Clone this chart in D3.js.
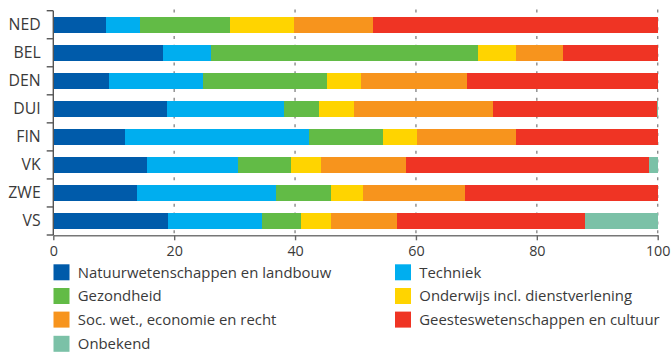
<!DOCTYPE html>
<html>
<head>
<meta charset="utf-8">
<script src="https://cdn.jsdelivr.net/npm/d3@7"></script>
<style>
  html, body { margin: 0; padding: 0; background: #fff; }
  svg { display: block; font-family: "Open Sans", sans-serif; }
</style>
</head>
<body>
<svg id="chart" width="671" height="352"></svg>
<script>
// Landen en aandelen (%) per studierichting
const countries = ["NED", "BEL", "DEN", "DUI", "FIN", "VK", "ZWE", "VS"];

const natuur      = [8.7, 18.2, 9.2, 18.8, 11.9, 15.5, 13.9, 19.0];
const techniek    = [5.6, 7.9, 15.6, 19.4, 30.4, 15.0, 23.0, 15.5];
const gezondheid  = [14.9, 44.2, 20.5, 5.8, 12.3, 8.8, 9.1, 6.5];
const onderwijs   = [10.6, 6.3, 5.6, 5.8, 5.6, 5.0, 5.3, 5.0];
const socwet      = [13.1, 7.8, 17.6, 23.0, 16.4, 14.1, 16.8, 10.9];
const geestes     = [47.1, 15.6, 31.5, 27.1, 23.4, 40.2, 31.9, 31.1];
const onbekend    = [0, 0, 0, 0.1, 0, 1.4, 0, 12.0];

const seriesNames = [
  "Natuurwetenschappen en landbouw", "Techniek", "Gezondheid",
  "Onderwijs incl. dienstverlening", "Soc. wet., economie en recht",
  "Geesteswetenschappen en cultuur", "Onbekend"
];
const seriesValues = [natuur, techniek, gezondheid, onderwijs, socwet, geestes, onbekend];
const seriesColors = ["#005baa", "#00aeef", "#62bb46", "#ffd400", "#f7941d", "#ef3424", "#7bc1a7"];

const xTicks = [0, 20, 40, 60, 80, 100];

// Legend order: two columns, filled row by row
const legendOrder = [0, 1, 2, 3, 4, 5, 6];

const rows = countries.map((c, i) => {
  const r = { country: c };
  seriesNames.forEach((s, k) => { r[s] = seriesValues[k][i]; });
  return r;
});

const svg = d3.select("#chart");

const x = d3.scaleLinear().domain([0, 100]).range([53.3, 657.7]);
const y = d3.scaleBand().domain(countries).range([10.7, 235])
  .paddingInner(12 / 28).paddingOuter(6 / 28);
const color = d3.scaleOrdinal().domain(seriesNames).range(seriesColors);

const stacked = d3.stack().keys(seriesNames)(rows);

// Dashed vertical grid lines
svg.append("g")
  .selectAll("line")
  .data(xTicks.filter(t => t > 0))
  .join("line")
  .attr("x1", d => x(d)).attr("x2", d => x(d))
  .attr("y1", 9.5).attr("y2", 235)
  .attr("stroke", "#8a8a8a")
  .attr("stroke-width", 1.4)
  .attr("stroke-dasharray", "3,5.83");

// Stacked bars
svg.append("g")
  .selectAll("g")
  .data(stacked)
  .join("g")
  .attr("fill", d => color(d.key))
  .selectAll("rect")
  .data(d => d)
  .join("rect")
  .attr("x", d => x(d[0]))
  .attr("width", d => Math.max(0, x(d[1]) - x(d[0])))
  .attr("y", d => y(d.data.country))
  .attr("height", y.bandwidth())
  .attr("shape-rendering", "crispEdges");

// Category axis: labels
const yAxis = svg.append("g")
  .attr("transform", `translate(${x(0)},0)`)
  .call(d3.axisLeft(y).tickSize(0).tickPadding(12.6));
yAxis.select(".domain").remove();
yAxis.selectAll("text")
  .attr("font-size", 15.8)
  .attr("font-family", "'Open Sans', sans-serif")
  .attr("fill", "#3a3a3a");

// Category axis: line and ticks at band boundaries
const bounds = countries.map(c => y(c) - (y.step() - y.bandwidth()) / 2)
  .concat([y.range()[1]]);
svg.append("line")
  .attr("x1", x(0)).attr("x2", x(0))
  .attr("y1", bounds[0]).attr("y2", y.range()[1])
  .attr("stroke", "#555").attr("stroke-width", 1.4);
svg.append("g")
  .selectAll("line")
  .data(bounds)
  .join("line")
  .attr("x1", x(0) - 6.6).attr("x2", x(0))
  .attr("y1", d => d).attr("y2", d => d)
  .attr("stroke", "#555").attr("stroke-width", 1.4);

// Value axis
const xAxis = svg.append("g")
  .attr("transform", "translate(0,235.3)")
  .call(d3.axisBottom(x).tickValues(xTicks).tickSize(5).tickSizeOuter(0).tickPadding(6));
xAxis.select(".domain").attr("stroke", "#777").attr("stroke-width", 1.6);
xAxis.selectAll(".tick line").attr("stroke", "#666").attr("stroke-width", 1.4);
xAxis.selectAll("text")
  .attr("font-size", 14.3)
  .attr("font-family", "'Open Sans', sans-serif")
  .attr("fill", "#3a3a3a");

// Legend
const legendCols = [53.5, 395];
const legendRowY = [264.3, 288, 311.6, 335.8];
const legend = svg.append("g")
  .selectAll("g")
  .data(legendOrder)
  .join("g")
  .attr("transform", (d, i) => `translate(${legendCols[i % 2]},${legendRowY[Math.floor(i / 2)]})`);
legend.append("rect")
  .attr("width", 16).attr("height", 16)
  .attr("fill", d => seriesColors[d]);
legend.append("text")
  .attr("x", 24.3).attr("y", 8).attr("dy", "0.35em")
  .attr("font-size", 14.9)
  .attr("fill", "#3a3a3a")
  .text(d => seriesNames[d]);
</script>
</body>
</html>
